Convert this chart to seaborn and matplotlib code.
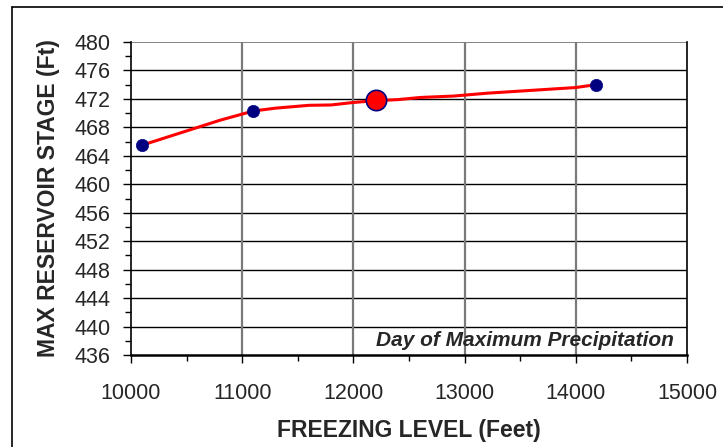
import matplotlib
matplotlib.use("Agg")
import matplotlib.pyplot as plt
from matplotlib.ticker import MultipleLocator
from matplotlib.lines import Line2D
import seaborn as sns
import pandas as pd

# Stage curve traced versus freezing level
curve_x = [10100, 10400, 10800, 11100, 11300, 11600, 11800, 12000, 12200,
           12400, 12600, 12900, 13200, 13600, 14000, 14180]
curve_y = [465.5, 467.0, 469.0, 470.3, 470.7, 471.1, 471.15, 471.5, 471.75,
           471.9, 472.2, 472.4, 472.8, 473.2, 473.6, 474.0]

# Computed runs
run_x = [10100, 11100, 14180]
run_y = [465.5, 470.3, 474.0]

# Day of maximum precipitation
peak_x = [12200]
peak_y = [471.8]

x_ticks = [10000, 11000, 12000, 13000, 14000, 15000]
y_ticks = list(range(436, 481, 4))

sns.set_theme(style="white")
plt.rcParams["font.family"] = ["Liberation Sans", "DejaVu Sans"]

fig = plt.figure(figsize=(7.23, 4.47), dpi=100)
ax = fig.add_axes([131 / 723, 1 - 355 / 447, 556 / 723, 313 / 447])

curve = pd.DataFrame({"x": curve_x, "y": curve_y})
runs = pd.DataFrame({"x": run_x, "y": run_y})
peak = pd.DataFrame({"x": peak_x, "y": peak_y})

sns.lineplot(data=curve, x="x", y="y", ax=ax, color="#ff0000", lw=2.2,
             sort=False, zorder=3)
sns.scatterplot(data=runs, x="x", y="y", ax=ax, color="#000080", s=78,
                edgecolor="#000080", linewidth=0.5, zorder=4)
sns.scatterplot(data=peak, x="x", y="y", ax=ax, color="#ff0000", s=215,
                edgecolor="#000080", linewidth=1.2, zorder=5)

ax.set_xlim(10000, 15000)
ax.set_ylim(436, 480)
ax.set_xticks(x_ticks)
ax.set_yticks(y_ticks)
ax.set_xticklabels([str(v) for v in x_ticks], fontsize=15.5)
ax.set_yticklabels([str(v) for v in y_ticks], fontsize=15.5)
ax.xaxis.set_minor_locator(MultipleLocator(500))
ax.yaxis.set_minor_locator(MultipleLocator(2))
ax.tick_params(axis="both", which="major", direction="out", length=6,
               width=1, color="black", bottom=True, left=True)
ax.tick_params(axis="both", which="minor", direction="out", length=4,
               width=1, color="black", bottom=True, left=True)
ax.tick_params(axis="x", which="major", pad=14)
ax.tick_params(axis="y", which="major", pad=9)

for y in y_ticks[1:-1]:
    ax.axhline(y, color="black", lw=1.0, zorder=1)
ax.axhline(480, color="#707070", lw=1.2, zorder=1)
for x in x_ticks[1:-1]:
    ax.axvline(x, color="#7a7a7a", lw=1.6, zorder=1)

for side in ("left", "bottom", "right"):
    ax.spines[side].set_color("black")
    ax.spines[side].set_linewidth(1.2)
ax.spines["top"].set_visible(False)
ax.spines["bottom"].set_linewidth(1.8)

ax.set_xlabel("FREEZING LEVEL (Feet)", fontsize=16.5, fontweight="bold",
              labelpad=11)
ax.set_ylabel("MAX RESERVOIR STAGE (Ft)", fontsize=16.5, fontweight="bold",
              labelpad=10)

ax.text(14880, 438.1, "Day of Maximum Precipitation", ha="right",
        va="center", fontsize=15, fontweight="bold", style="italic",
        zorder=6)

# Frame around the figure
fig.add_artist(Line2D([12 / 723, 12 / 723], [0, 1 - 7 / 447],
                      color="black", lw=1.2, transform=fig.transFigure))
fig.add_artist(Line2D([12 / 723, 1], [1 - 7 / 447, 1 - 7 / 447],
                      color="black", lw=1.2, transform=fig.transFigure))

fig.savefig("out.png", dpi=100)
